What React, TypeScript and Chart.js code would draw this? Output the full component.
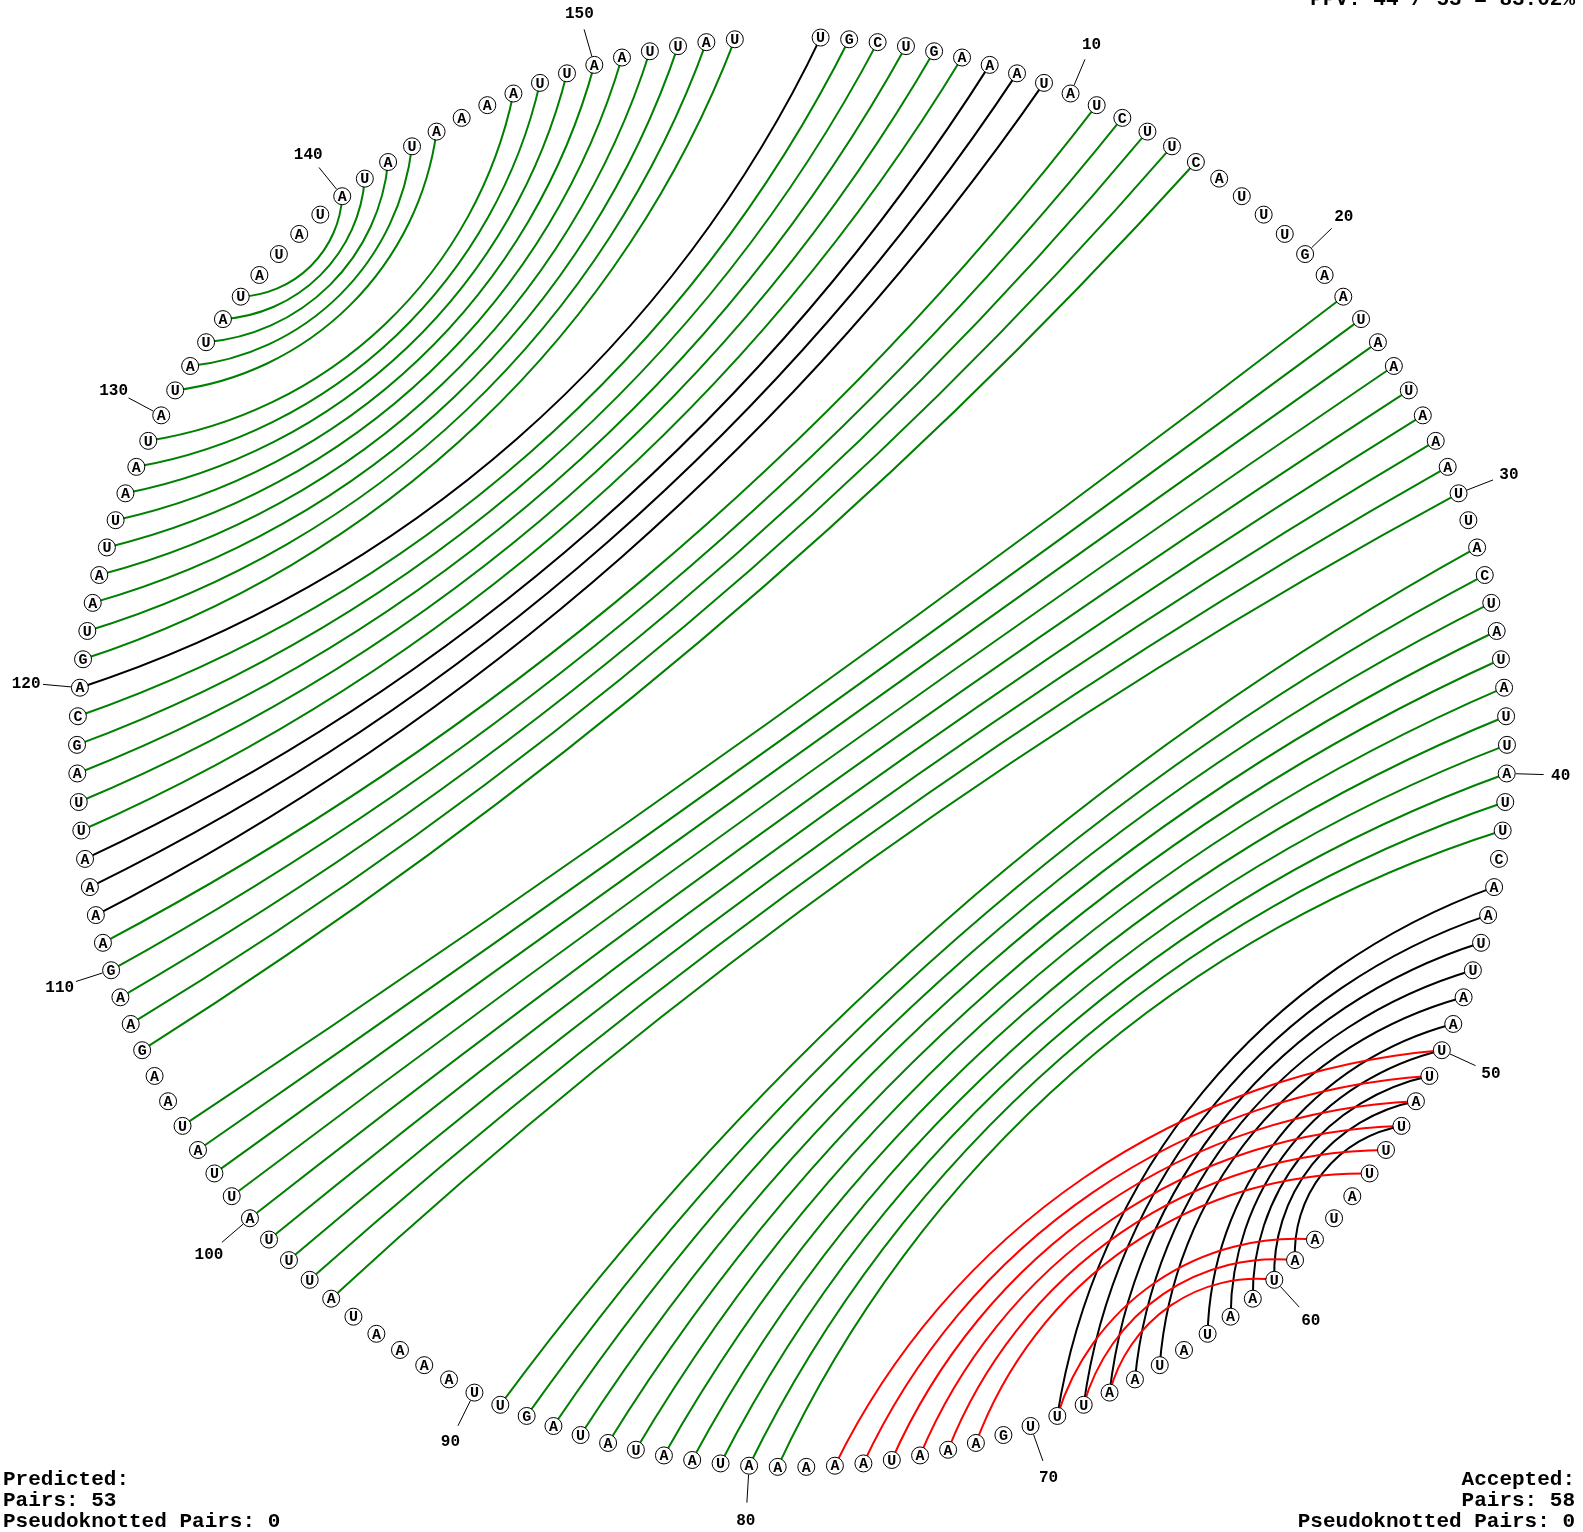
import React, { useEffect, useRef } from "react";
import { Chart, registerables } from "chart.js";

Chart.register(...registerables);

// ---------- data ----------
const SEQUENCE: string[] = (
  "UGCUGAAAUA" + "UCUUCAUUUG" + "AAUAAUAAAU" + "UACUAUAUUA" + "UUCAAUUAAU" +
  "UAUUUAUAAU" + "AAUAUAAUUU" + "GAAAUAAAAA" + "UAAUAUAGUU" + "AAAAUAUUUA" +
  "UUAUAAGAAG" + "AAAAUUAGCA" + "GUAAUUAAUA" + "UAUAUAUAUA" + "UAUAAAAUUA" + "AUUAU"
).split("");

// pairs found in both predicted and accepted structures (green)
const BOTH_PAIRS: [number, number][] = [
  [2, 119], [3, 118], [4, 117], [5, 116], [6, 115],
  [11, 111], [12, 110], [13, 109], [14, 108], [15, 107],
  [22, 104], [23, 103], [24, 102], [25, 101], [26, 100], [27, 99], [28, 98], [29, 97], [30, 96],
  [32, 89], [33, 88], [34, 87], [35, 86], [36, 85], [37, 84], [38, 83], [39, 82], [40, 81], [41, 80], [42, 79],
  [121, 155], [122, 154], [123, 153], [124, 152], [125, 151], [126, 150], [127, 149], [128, 148], [129, 147],
  [131, 144], [132, 143], [133, 142], [134, 141], [135, 140],
];

// accepted only (black)
const ACCEPTED_ONLY_PAIRS: [number, number][] = [
  [1, 120], [7, 114], [8, 113], [9, 112],
  [44, 69], [45, 68], [46, 67], [47, 66], [48, 65], [49, 63], [50, 62], [51, 61], [52, 60], [53, 59],
];

// predicted only (red)
const PREDICTED_ONLY_PAIRS: [number, number][] = [
  [50, 77], [51, 76], [52, 75], [53, 74], [54, 73], [55, 72],
  [58, 69], [59, 68], [60, 67],
];

const NUMBER_LABELS: number[] = [10, 20, 30, 40, 50, 60, 70, 80, 90, 100, 110, 120, 130, 140, 150];

const PPV_TEXT = "PPV: 44 / 53 = 83.02%";
const PREDICTED_LINES = ["Predicted:", "Pairs: 53", "Pseudoknotted Pairs: 0"];
const ACCEPTED_LINES = ["Accepted:", "Pairs: 58", "Pseudoknotted Pairs: 0"];

// ---------- layout ----------
const W = 1583;
const H = 1532;
const CX = 792;
const CY = 752;
const R = 715;
const SLOTS = SEQUENCE.length + 2;
const ARC_K = 0.5;

const MONO = '"Courier New", "Liberation Mono", monospace';

function angleOf(i: number) {
  return (i * 2 * Math.PI) / SLOTS;
}

function drawPairArc(ctx: CanvasRenderingContext2D, p0: { x: number; y: number }, p2: { x: number; y: number }, cx: number, cy: number) {
  const v0x = p0.x - cx, v0y = p0.y - cy, v2x = p2.x - cx, v2y = p2.y - cy;
  const dot = (v0x * v2x + v0y * v2y) / (Math.hypot(v0x, v0y) * Math.hypot(v2x, v2y));
  const theta = Math.acos(Math.max(-1, Math.min(1, dot)));
  const alpha = ARC_K * (Math.PI / 2 - theta / 2);
  const mx = (p0.x + p2.x) / 2, my = (p0.y + p2.y) / 2;
  const c = Math.hypot(p2.x - p0.x, p2.y - p0.y);
  ctx.beginPath();
  let ux = cx - mx, uy = cy - my;
  const ul = Math.hypot(ux, uy);
  if (alpha < 1e-3 || ul < 1e-6) {
    ctx.moveTo(p0.x, p0.y);
    ctx.lineTo(p2.x, p2.y);
    ctx.stroke();
    return;
  }
  ux /= ul; uy /= ul;
  const r = c / 2 / Math.sin(alpha);
  const d = r * Math.cos(alpha);
  const ox = mx - d * ux, oy = my - d * uy;
  const a0 = Math.atan2(p0.y - oy, p0.x - ox);
  const a2 = Math.atan2(p2.y - oy, p2.x - ox);
  let diff = a2 - a0;
  while (diff > Math.PI) diff -= 2 * Math.PI;
  while (diff < -Math.PI) diff += 2 * Math.PI;
  ctx.arc(ox, oy, r, a0, a0 + diff, diff < 0);
  ctx.stroke();
}

const arcPlugin = {
  id: "pairArcs",
  beforeDatasetsDraw(chart: any) {
    const { ctx, scales } = chart;
    const pts = chart.getDatasetMeta(0).data;
    const cx = scales.x.getPixelForValue(0);
    const cy = scales.y.getPixelForValue(0);
    const groups: [string, [number, number][]][] = [
      ["#000000", ACCEPTED_ONLY_PAIRS],
      ["#008000", BOTH_PAIRS],
      ["#ff0000", PREDICTED_ONLY_PAIRS],
    ];
    ctx.save();
    ctx.lineWidth = 2;
    ctx.lineCap = "butt";
    for (const [color, pairs] of groups) {
      ctx.strokeStyle = color;
      for (const [i, j] of pairs) {
        drawPairArc(ctx, pts[i - 1], pts[j - 1], cx, cy);
      }
    }
    ctx.restore();
  },
};

const textPlugin = {
  id: "nucText",
  afterDatasetsDraw(chart: any) {
    const { ctx, scales } = chart;
    const pts = chart.getDatasetMeta(0).data;
    const cx = scales.x.getPixelForValue(0);
    const cy = scales.y.getPixelForValue(0);
    ctx.save();
    // nucleotide letters
    ctx.fillStyle = "#000";
    ctx.font = `bold 15px ${MONO}`;
    ctx.textAlign = "center";
    ctx.textBaseline = "middle";
    SEQUENCE.forEach((ch, k) => {
      const p = pts[k];
      ctx.fillText(ch, p.x, p.y + 1);
    });
    // numbering
    ctx.font = `bold 16px ${MONO}`;
    ctx.strokeStyle = "#000";
    ctx.lineWidth = 1;
    for (const n of NUMBER_LABELS) {
      const p = pts[n - 1];
      const dx = p.x - cx, dy = p.y - cy;
      const len = Math.hypot(dx, dy);
      const ux = dx / len, uy = dy / len;
      ctx.beginPath();
      ctx.moveTo(p.x + ux * 9, p.y + uy * 9);
      ctx.lineTo(p.x + ux * 37, p.y + uy * 37);
      ctx.stroke();
      ctx.fillText(String(n), p.x + ux * 54, p.y + uy * 54 + 1);
    }
    // corner texts
    ctx.font = `bold 21px ${MONO}`;
    ctx.textBaseline = "alphabetic";
    ctx.textAlign = "right";
    ctx.fillText(PPV_TEXT, 1575, 5);
    const baselines = [1485, 1506, 1527];
    ACCEPTED_LINES.forEach((t, k) => ctx.fillText(t, 1575, baselines[k]));
    ctx.textAlign = "left";
    PREDICTED_LINES.forEach((t, k) => ctx.fillText(t, 3, baselines[k]));
    ctx.restore();
  },
};

export default function App() {
  const canvasRef = useRef<HTMLCanvasElement | null>(null);

  useEffect(() => {
    const canvas = canvasRef.current;
    if (!canvas) return;
    const data = SEQUENCE.map((_, k) => ({
      x: Math.sin(angleOf(k + 1)),
      y: Math.cos(angleOf(k + 1)),
    }));
    const chart = new Chart(canvas, {
      type: "scatter",
      data: {
        datasets: [
          {
            data,
            pointRadius: 8.5,
            pointHoverRadius: 8.5,
            pointBackgroundColor: "#ffffff",
            pointBorderColor: "#000000",
            pointBorderWidth: 1,
            showLine: false,
            clip: false,
          },
        ],
      },
      options: {
        animation: false,
        responsive: false,
        maintainAspectRatio: false,
        events: [],
        layout: { padding: 0, autoPadding: false },
        plugins: { legend: { display: false }, tooltip: { enabled: false }, title: { display: false } },
        scales: {
          x: { type: "linear", min: -CX / R, max: (W - CX) / R, display: false },
          y: { type: "linear", min: -(H - CY) / R, max: CY / R, display: false },
        },
      },
      plugins: [arcPlugin, textPlugin],
    } as any);
    return () => chart.destroy();
  }, []);

  return (
    <div style={{ position: "absolute", left: 0, top: 0, width: W, height: H, background: "#fff" }}>
      <canvas ref={canvasRef} width={W} height={H} style={{ width: W, height: H, display: "block" }} />
    </div>
  );
}
